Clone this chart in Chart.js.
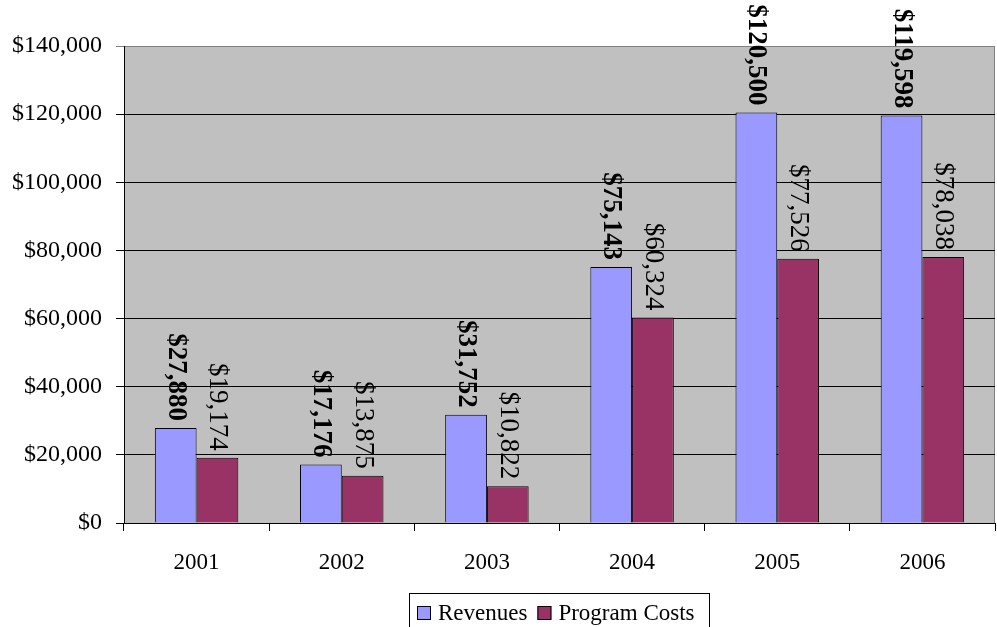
<!DOCTYPE html>
<html>
<head>
<meta charset="utf-8">
<script src="https://cdn.jsdelivr.net/npm/chart.js@4.4.0/dist/chart.umd.min.js"></script>
<style>
  html, body { margin: 0; padding: 0; background: #fff; }
  #wrap { width: 997px; height: 627px; }
</style>
</head>
<body>
<div id="wrap"><canvas id="chart" width="997" height="627"></canvas></div>
<script>
const years = ['2001', '2002', '2003', '2004', '2005', '2006'];
const revenues = [27880, 17176, 31752, 75143, 120500, 119598];
const programCosts = [19174, 13875, 10822, 60324, 77526, 78038];
const yTicks = [0, 20000, 40000, 60000, 80000, 100000, 120000, 140000];

const FONT = '"Liberation Serif", "Times New Roman", serif';
const money = v => '$' + v.toLocaleString('en-US');

// gray plot area with a thin border
const plotBg = {
    id: 'plotBg',
    beforeDraw(chart) {
        const a = chart.chartArea, ctx = chart.ctx;
        ctx.save();
        ctx.fillStyle = '#C0C0C0';
        ctx.fillRect(a.left, a.top, a.right - a.left, a.bottom - a.top);
        ctx.strokeStyle = '#808080';
        ctx.lineWidth = 1;
        ctx.strokeRect(a.left + 0.5, a.top + 0.5, a.right - a.left - 1, a.bottom - a.top);
        ctx.restore();
    }
};

// vertical value labels above each bar
const barLabels = {
    id: 'barLabels',
    afterDatasetsDraw(chart) {
        const ctx = chart.ctx;
        chart.data.datasets.forEach((ds, i) => {
            const meta = chart.getDatasetMeta(i);
            meta.data.forEach((bar, j) => {
                ctx.save();
                ctx.translate(bar.x, bar.y - 7);
                ctx.rotate(Math.PI / 2);
                ctx.font = (i === 0 ? 'bold ' : '') + '27px ' + FONT;
                ctx.fillStyle = '#000';
                ctx.textAlign = 'right';
                ctx.textBaseline = 'middle';
                ctx.fillText(money(ds.data[j]), 0, 0);
                ctx.restore();
            });
        });
    }
};

// boxed legend at the bottom
const boxLegend = {
    id: 'boxLegend',
    afterDraw(chart) {
        const ctx = chart.ctx;
        ctx.save();
        ctx.strokeStyle = '#000';
        ctx.lineWidth = 1;
        ctx.strokeRect(409.5, 593.5, 300, 40);
        ctx.font = '23px ' + FONT;
        ctx.textBaseline = 'middle';
        let x = 417;
        chart.data.datasets.forEach(ds => {
            ctx.fillStyle = ds.backgroundColor;
            ctx.fillRect(x, 606, 14, 14);
            ctx.strokeRect(x + 0.5, 606.5, 13, 13);
            ctx.fillStyle = '#000';
            ctx.textAlign = 'left';
            ctx.fillText(ds.label, x + 21, 614);
            x += 21 + ctx.measureText(ds.label).width + 10;
        });
        ctx.restore();
    }
};

new Chart(document.getElementById('chart'), {
    type: 'bar',
    data: {
        labels: years,
        datasets: [
            {
                label: 'Revenues',
                data: revenues,
                backgroundColor: '#9999FF',
                borderColor: '#000',
                borderWidth: 1,
                categoryPercentage: 0.575,
                barPercentage: 1
            },
            {
                label: 'Program Costs',
                data: programCosts,
                backgroundColor: '#993366',
                borderColor: '#000',
                borderWidth: 1,
                categoryPercentage: 0.575,
                barPercentage: 1
            }
        ]
    },
    options: {
        responsive: false,
        animation: false,
        layout: { padding: { top: 46, right: 2, left: 0, bottom: 0 } },
        plugins: {
            legend: { display: false },
            tooltip: { enabled: false }
        },
        scales: {
            x: {
                grid: { drawOnChartArea: false, tickLength: 8, color: '#000', offset: true },
                border: { color: '#000' },
                ticks: { color: '#000', font: { family: FONT, size: 23 }, padding: 18, maxRotation: 0 },
                afterFit: s => { s.height = 104; }
            },
            y: {
                min: 0,
                max: 140000,
                afterBuildTicks: s => { s.ticks = yTicks.map(v => ({ value: v })); },
                grid: {
                    tickLength: 8,
                    color: c => (c.tick && c.tick.value === 140000) ? '#808080' : '#000'
                },
                border: { color: '#000' },
                ticks: {
                    color: '#000',
                    font: { family: FONT, size: 24 },
                    padding: 14,
                    callback: v => money(v)
                },
                afterFit: s => { s.width = 124; }
            }
        }
    },
    plugins: [plotBg, barLabels, boxLegend]
});
</script>
</body>
</html>
